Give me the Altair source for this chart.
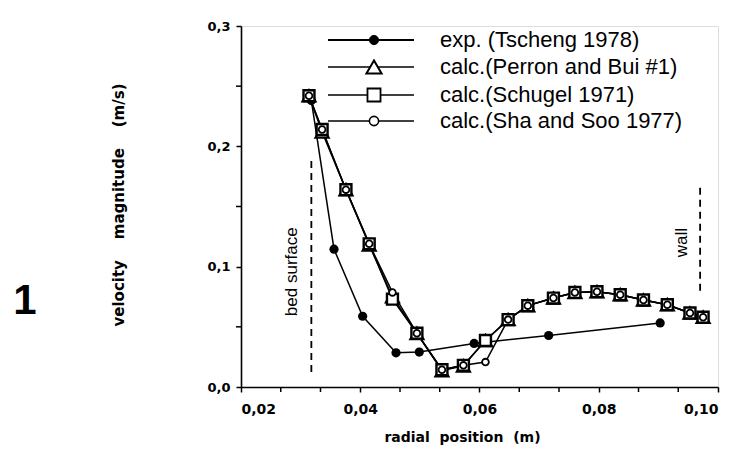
import altair as alt
import pandas as pd

# ---------------- data ----------------
x_calc = [0.0314, 0.0336, 0.0376, 0.0415, 0.0454, 0.0495, 0.0537, 0.0573, 0.0610,
          0.0648, 0.0681, 0.0724, 0.0760, 0.0797, 0.0836, 0.0875, 0.0915, 0.0953, 0.0975]
y_perron = [0.242, 0.212, 0.164, 0.118, 0.075, 0.0445, 0.0135, 0.0175, 0.0386,
            0.056, 0.0676, 0.0739, 0.0786, 0.0792, 0.0767, 0.0723, 0.0684, 0.0615, 0.058]
y_schugel = [0.242, 0.214, 0.164, 0.119, 0.073, 0.0447, 0.0143, 0.018, 0.0386,
             0.056, 0.0676, 0.0739, 0.0786, 0.0792, 0.0767, 0.0723, 0.0684, 0.0615, 0.058]
y_sha = [0.242, 0.214, 0.164, 0.119, 0.0786, 0.0447, 0.0143, 0.018, 0.0207,
         0.056, 0.0676, 0.0739, 0.0786, 0.0792, 0.0767, 0.0723, 0.0684, 0.0615, 0.058]

x_exp = [0.0318, 0.0356, 0.0404, 0.0460, 0.0499, 0.0591, 0.0716, 0.0903]
y_exp = [0.238, 0.1145, 0.0588, 0.0284, 0.029, 0.0362, 0.0428, 0.0532]

series_names = ["exp. (Tscheng 1978)", "calc.(Perron and Bui #1)",
                "calc.(Schugel 1971)", "calc.(Sha and Soo 1977)"]

marker_x = [0.0318, 0.0970]          # bed surface, wall
marker_y0 = [0.0124, 0.080]
marker_y1 = [0.189, 0.168]
marker_text = ["bed surface", "wall"]
marker_text_x = [0.0285, 0.0939]
marker_text_y = [0.0958, 0.120]

x_label_values = [0.02, 0.04, 0.06, 0.08, 0.10]
x_minor_ticks = [0.026667, 0.033333, 0.046667, 0.053333, 0.066667, 0.073333,
                 0.086667, 0.093333]
y_label_values = [0.0, 0.1, 0.2, 0.3]
y_minor_ticks = [0.05, 0.15, 0.25]

panel_label = "1"
NB = "\u00a0"
x_title = "radial" + NB * 2 + "position" + NB * 2 + "(m)"
y_title = "velocity" + NB * 4 + "magnitude" + NB * 4 + "(m/s)"

# ---------------- tables ----------------
calc_df = pd.concat([
    pd.DataFrame({"x": x_calc, "y": y_perron, "series": series_names[1], "i": range(len(x_calc))}),
    pd.DataFrame({"x": x_calc, "y": y_schugel, "series": series_names[2], "i": range(len(x_calc))}),
    pd.DataFrame({"x": x_calc, "y": y_sha, "series": series_names[3], "i": range(len(x_calc))}),
])
exp_df = pd.DataFrame({"x": x_exp, "y": y_exp, "i": range(len(x_exp))})
mk_df = pd.DataFrame({"x": marker_x, "y": marker_y0, "y2": marker_y1})
mt_df = pd.DataFrame({"x": marker_text_x, "y": marker_text_y, "t": marker_text})
xmin_df = pd.DataFrame({"x": x_minor_ticks})
ymin_df = pd.DataFrame({"y": y_minor_ticks})

W, H = 477, 361
xs = alt.Scale(domain=[0.02, 0.10], nice=False, zero=False)
ys = alt.Scale(domain=[0.0, 0.3], nice=False, zero=False)

FONT = "Liberation Sans"
AFONT = "DejaVu Sans"

x_axis = alt.Axis(values=x_label_values,
                  labelExpr="replace(format(datum.value, '.2f'), '.', ',')",
                  labelOverlap=False,
                  grid=False, tickSize=5, tickWidth=1.5, tickColor="black",
                  domainColor="black", domainWidth=1.6,
                  labelFont=AFONT, labelFontSize=14, labelColor="black", labelPadding=10,
                  labelFontWeight="bold",
                  title=x_title, titleFont=AFONT, titleFontSize=14, titleFontWeight="bold",
                  titleColor="black", titleX=221, titleY=50, titleBaseline="middle",
                  titleAlign="center")
y_axis = alt.Axis(values=y_label_values,
                  labelExpr="replace(format(datum.value, '.1f'), '.', ',')",
                  labelOverlap=False,
                  grid=False, tickSize=5, tickWidth=1.5, tickColor="black",
                  domainColor="black", domainWidth=1.6,
                  labelFont=AFONT, labelFontSize=13, labelColor="black", labelPadding=6,
                  labelFontWeight="bold",
                  title=y_title, titleFont=AFONT, titleFontSize=15, titleFontWeight="bold",
                  titleColor="black", titleX=-123, titleY=H / 2 - 2, titleAngle=-90,
                  titleBaseline="middle", titleAlign="center")

X = alt.X("x:Q", scale=xs, axis=x_axis)
Y = alt.Y("y:Q", scale=ys, axis=y_axis)

# minor ticks (outside the plot, same style as axis ticks)
x_minor = alt.Chart(xmin_df).mark_rule(color="black", strokeWidth=1.5).encode(
    x=alt.X("x:Q", scale=xs), y=alt.value(H), y2=alt.value(H + 5))
y_minor = alt.Chart(ymin_df).mark_rule(color="black", strokeWidth=1.5).encode(
    y=alt.Y("y:Q", scale=ys), x=alt.value(0), x2=alt.value(-5))

rules = alt.Chart(mk_df).mark_rule(color="black", strokeWidth=1.8, strokeDash=[7, 5]).encode(
    x=alt.X("x:Q", scale=xs), y=alt.Y("y:Q", scale=ys), y2="y2:Q")
mtext = alt.Chart(mt_df).mark_text(angle=270, font=FONT, fontSize=17, color="black",
                                   baseline="middle", align="center").encode(
    x=alt.X("x:Q", scale=xs), y=alt.Y("y:Q", scale=ys), text="t:N")

exp_line = alt.Chart(exp_df).mark_line(color="black", strokeWidth=1.5).encode(
    x=X, y=Y, order="i:Q")
calc_line = alt.Chart(calc_df).mark_line(color="black", strokeWidth=1.5).encode(
    x=alt.X("x:Q", scale=xs), y=alt.Y("y:Q", scale=ys), detail="series:N", order="i:Q")
exp_pts = alt.Chart(exp_df).mark_point(shape="circle", filled=True, color="black",
                                       size=85, opacity=1).encode(
    x=alt.X("x:Q", scale=xs), y=alt.Y("y:Q", scale=ys))

def calc_pts(name, shape, size, sw):
    return alt.Chart(calc_df[calc_df.series == name]).mark_point(
        shape=shape, filled=True, fill="white", stroke="black", strokeWidth=sw,
        size=size, opacity=1).encode(
        x=alt.X("x:Q", scale=xs), y=alt.Y("y:Q", scale=ys))

tri_pts = calc_pts(series_names[1], "triangle-up", 170, 2.2)
sq_pts = calc_pts(series_names[2], "square", 120, 2.4)
ci_pts = calc_pts(series_names[3], "circle", 45, 1.8)

# ---------------- manual legend (layout in pixels) ----------------
leg_rows = [14, 41, 69, 95]
leg_x0, leg_x1, leg_mx, leg_tx = 87, 173, 133, 199
leg_style = [
    dict(shape="circle", fill="black", size=85, sw=1),
    dict(shape="triangle-up", fill="white", size=230, sw=2),
    dict(shape="square", fill="white", size=170, sw=1.8),
    dict(shape="circle", fill="white", size=85, sw=1.6),
]
legend_layers = []
for i, name in enumerate(series_names):
    d = pd.DataFrame({"label": [name]})
    ly = leg_rows[i]
    legend_layers.append(alt.Chart(d).mark_rule(color="black", strokeWidth=1.8 if i == 0 else 1.5).encode(
        x=alt.value(leg_x0), x2=alt.value(leg_x1), y=alt.value(ly)))
    st = leg_style[i]
    legend_layers.append(alt.Chart(d).mark_point(shape=st["shape"], filled=True, fill=st["fill"],
                                                 stroke="black", strokeWidth=st["sw"],
                                                 size=st["size"], opacity=1).encode(
        x=alt.value(leg_mx), y=alt.value(ly)))
    legend_layers.append(alt.Chart(d).mark_text(align="left", baseline="middle", font=FONT,
                                                fontSize=22, color="black").encode(
        x=alt.value(leg_tx), y=alt.value(ly), text="label:N"))

panel = alt.Chart(pd.DataFrame({"t": [panel_label]})).mark_text(
    font=FONT, fontSize=42, fontWeight="bold", color="black", align="center",
    baseline="middle").encode(x=alt.value(-216), y=alt.value(275), text="t:N")

chart = alt.layer(exp_line, x_minor, y_minor, rules, mtext, calc_line, exp_pts, tri_pts,
                  sq_pts, ci_pts, *legend_layers, panel).properties(
    width=W, height=H,
    autosize=alt.AutoSizeParams(type="none"),
    padding={"left": 233, "top": 18, "right": 10, "bottom": 70},
).configure_view(stroke="black", strokeWidth=1.6).configure(background="white")

chart.save("out.html", embed_options={"renderer": "svg", "actions": False})
